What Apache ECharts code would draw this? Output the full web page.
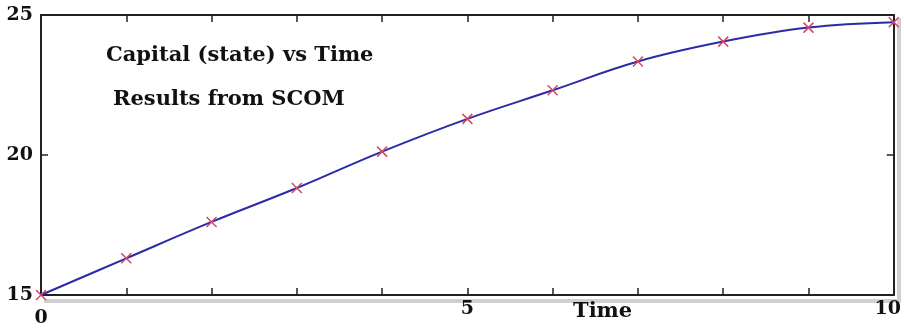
<!DOCTYPE html>
<html>
<head>
<meta charset="utf-8">
<script src="https://cdn.jsdelivr.net/npm/echarts@6/dist/echarts.min.js"></script>
<style>
  html, body { margin: 0; padding: 0; background: #fff; }
  #main { width: 904px; height: 328px; }
</style>
</head>
<body>
<div id="main"></div>
<script>
// 数据
var times = [0, 1, 2, 3, 4, 5, 6, 7, 8, 9, 10];
var capital = [15.0, 16.31, 17.61, 18.82, 20.12, 21.29, 22.31, 23.34, 24.05, 24.55, 24.74];
var xLabels = ['0', '5', '10'];
var yLabels = ['15', '20', '25'];

var font = 'DejaVu Serif';
var points = times.map(function (t, i) { return [t, capital[i]]; });

var chart = echarts.init(document.getElementById('main'));

var axisLineStyle = { color: '#222', width: 2 };
var tickStyle = { color: '#222', width: 1.5 };

var option = {
    backgroundColor: '#ffffff',
    animation: false,
    grid: { left: 41, right: 8, top: 15, bottom: 30 },
    graphic: [
        // 灰色阴影 (下、右)
        { type: 'rect', z: 0, shape: { x: 44, y: 299, width: 856, height: 4 }, style: { fill: '#d0d0d0' } },
        { type: 'rect', z: 0, shape: { x: 897, y: 18, width: 4, height: 285 }, style: { fill: '#d0d0d0' } },
        { type: 'text', z: 100, left: 106, top: 45, style: { text: 'Capital (state) vs Time', font: 'bold 21px "' + font + '"', fill: '#111' } },
        { type: 'text', z: 100, left: 113, top: 89, style: { text: 'Results from SCOM', font: 'bold 21px "' + font + '"', fill: '#111' } },
        { type: 'text', z: 100, left: 573, top: 301, style: { text: 'Time', font: 'bold 21px "' + font + '"', fill: '#111' } }
    ],
    xAxis: [
        {
            type: 'value', min: 0, max: 10, interval: 1, position: 'bottom', z: 5,
            axisLine: { onZero: false, lineStyle: axisLineStyle },
            axisTick: { inside: true, length: 7, lineStyle: tickStyle },
            splitLine: { show: false },
            axisLabel: {
                margin: 5, color: '#111', fontFamily: font, fontWeight: 'bold', fontSize: 19,
                showMinLabel: true, showMaxLabel: true,
                formatter: function (v) {
                    var s = String(v);
                    if (xLabels.indexOf(s) < 0) return '';
                    if (s === '0') return '{low|0}';
                    if (s === '10') return '{ten|10}';
                    return s;
                },
                rich: {
                    low: { padding: [9, 0, 0, 0], fontFamily: font, fontWeight: 'bold', fontSize: 19, color: '#111' },
                    ten: { padding: [0, 12, 0, 0], fontFamily: font, fontWeight: 'bold', fontSize: 19, color: '#111' }
                }
            }
        },
        {
            type: 'value', min: 0, max: 10, interval: 1, position: 'top', z: 5,
            axisLine: { onZero: false, lineStyle: axisLineStyle },
            axisTick: { inside: true, length: 7, lineStyle: tickStyle },
            splitLine: { show: false },
            axisLabel: { show: false }
        }
    ],
    yAxis: [
        {
            type: 'value', min: 15, max: 25, interval: 5, position: 'left', z: 5,
            axisLine: { show: true, onZero: false, lineStyle: axisLineStyle },
            axisTick: { show: true, inside: true, length: 7, lineStyle: tickStyle },
            splitLine: { show: false },
            axisLabel: {
                margin: 8, color: '#111', fontFamily: font, fontWeight: 'bold', fontSize: 19,
                formatter: function (v) { return yLabels.indexOf(String(v)) >= 0 ? String(v) : ''; }
            }
        },
        {
            type: 'value', min: 15, max: 25, interval: 5, position: 'right', z: 5,
            axisLine: { show: true, onZero: false, lineStyle: axisLineStyle },
            axisTick: { show: true, inside: true, length: 7, lineStyle: tickStyle },
            splitLine: { show: false },
            axisLabel: { show: false }
        }
    ],
    series: [
        {
            name: 'Capital',
            type: 'line',
            smooth: 0.4,
            data: points,
            z: 6,
            symbol: 'path://M0,0L10,10M10,0L0,10',
            symbolSize: 10,
            showSymbol: true,
            lineStyle: { color: '#2b2ba6', width: 2 },
            itemStyle: { color: 'transparent', borderColor: '#d24a68', borderWidth: 1.5 }
        }
    ]
};

chart.setOption(option);
</script>
</body>
</html>
